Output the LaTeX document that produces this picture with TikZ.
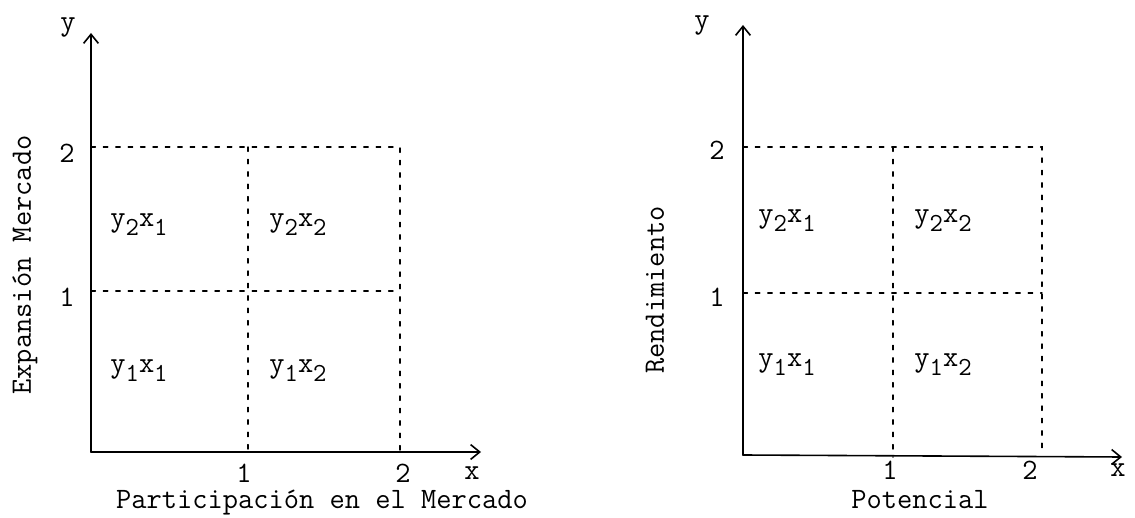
\documentclass[tikz,border=0pt]{standalone}
\usepackage{fontspec}
\usetikzlibrary{arrows.meta,positioning}
\newcommand{\lo}[1]{\raisebox{-0.7ex}{\fontsize{13}{14}\selectfont #1}}
\tikzset{
  ax/.style={draw=black, line width=0.8pt, -{Straight Barb[length=1.6mm,width=2.6mm]}},
  grd/.style={draw=black, line width=0.7pt, dash pattern=on 2.2pt off 4pt},
  lbl/.style={font=\ttfamily\fontsize{14.8}{16}\selectfont, inner sep=0pt},
  cell/.style={lbl},
  every picture/.append style={line cap=round}
}
\begin{document}
\begin{tikzpicture}[x=0.5pt, y=-0.5pt]
  \useasboundingbox (0,0) rectangle (1135,518);
  % left: participacion / expansion
  \coordinate (o1) at (91,452);
  \coordinate (ya) at (91,33);
  \coordinate (xa) at (481,452);
  \coordinate (a11) at (248,291); \coordinate (a12) at (400,291);
  \coordinate (a21) at (248,147); \coordinate (a22) at (400,147);
  \coordinate (a01) at (248,452); \coordinate (a02) at (400,452);
  \coordinate (a1) at (91,291); \coordinate (a2) at (91,147);
  \draw[grd] (a2) -- (a22) -- (a02);
  \draw[grd] (a1) -- (a12);
  \draw[grd] (a21) -- (a01);
  \draw[ax] (o1) -- (ya);
  \draw[ax] (o1) -- (xa);
  \node[lbl] (ly) at (68,27) {y};
  \node[lbl] (lx) at (472,473) {x};
  \node[lbl] (ly2) at (67,153) {2};
  \node[lbl] (ly1) at (67,297) {1};
  \node[lbl] (lx1) at (244,473) {1};
  \node[lbl] (lx2) at (403,473) {2};
  \node[lbl] (tx) at (322,503) {Participación en el Mercado};
  \node[lbl, rotate=90] (ty) at (25,265) {Expansión Mercado};
  \foreach \x/\i in {139/1,298/2} {
    \node[cell] (b2\i) at (\x,225) {y\lo{2}x\lo{\i}};
    \node[cell] (b1\i) at (\x,371) {y\lo{1}x\lo{\i}};
  }
  % right: potencial / rendimiento
  \coordinate (o2) at (743,455);
  \coordinate (yb) at (743,25);
  \coordinate (xb) at (1122,457);
  \coordinate (c12) at (1042,293);
  \coordinate (c21) at (893,147); \coordinate (c22) at (1042,147);
  \coordinate (c01) at (893,457); \coordinate (c02) at (1042,455);
  \coordinate (c1) at (743,293); \coordinate (c2) at (743,147);
  \draw[grd] (c2) -- (c22) -- (c02);
  \draw[grd] (c1) -- (c12);
  \draw[grd] (c21) -- (c01);
  \draw[ax] (o2) -- (yb);
  \draw[ax] (o2) -- (xb);
  \node[lbl] (ry) at (702,25) {y};
  \node[lbl] (rx) at (1118,470) {x};
  \node[lbl] (ry2) at (717,150) {2};
  \node[lbl] (ry1) at (717,297) {1};
  \node[lbl] (rx1) at (890,470) {1};
  \node[lbl] (rx2) at (1030,470) {2};
  \node[lbl] (sx) at (920,500) {Potencial};
  \node[lbl, rotate=90] (sy) at (655,290) {Rendimiento};
  \foreach \x/\i in {787/1,943/2} {
    \node[cell] (d2\i) at (\x,221) {y\lo{2}x\lo{\i}};
    \node[cell] (d1\i) at (\x,365) {y\lo{1}x\lo{\i}};
  }
\end{tikzpicture}
\end{document}
